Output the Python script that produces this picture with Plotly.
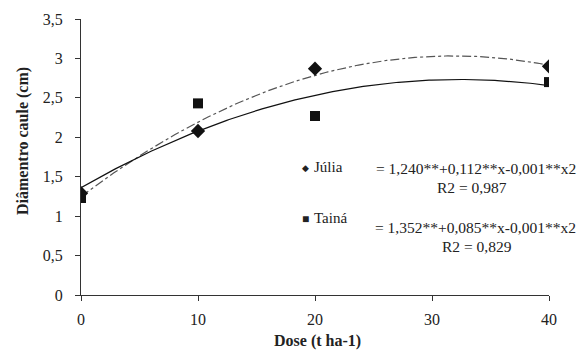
import numpy as np
import plotly.graph_objects as go

dose = [0, 10, 20, 40]
julia = [1.29, 2.08, 2.87, 2.90]
taina = [1.23, 2.43, 2.27, 2.70]
x_ticks = [0, 10, 20, 30, 40]
y_ticks = [0, 0.5, 1, 1.5, 2, 2.5, 3, 3.5]
y_tick_labels = ["0", "0,5", "1", "1,5", "2", "2,5", "3", "3,5"]

xs = np.linspace(0, 40, 200)
pj = np.polyfit(dose, julia, 2)
pt = np.polyfit(dose, taina, 2)

FONT = "Liberation Serif"
TXT = "#222222"
fig = go.Figure()
fig.add_trace(go.Scatter(x=xs, y=np.polyval(pj, xs), mode="lines",
                         line=dict(color="#555555", width=1.2, dash="dashdot"), hoverinfo="skip"))
fig.add_trace(go.Scatter(x=xs, y=np.polyval(pt, xs), mode="lines",
                         line=dict(color="#111111", width=1.2), hoverinfo="skip"))
fig.add_trace(go.Scatter(x=dose, y=julia, mode="markers",
                         marker=dict(symbol="diamond", size=11, color="#111111")))
fig.add_trace(go.Scatter(x=dose, y=taina, mode="markers",
                         marker=dict(symbol="square", size=10, color="#111111")))

fig.update_layout(
    width=569, height=345, showlegend=False,
    paper_bgcolor="white", plot_bgcolor="white",
    margin=dict(l=73, r=28, t=11, b=58),
    font=dict(family=FONT, size=16, color=TXT),
    xaxis=dict(range=[0, 40], tickvals=x_ticks, showgrid=False, zeroline=False,
               showline=True, linecolor="#333333", linewidth=1, automargin=False,
               ticks="outside", ticklen=5, tickcolor="#333333", ticklabelstandoff=5,
               tickfont=dict(family=FONT, size=16, color=TXT)),
    yaxis=dict(range=[0, 3.5], tickvals=y_ticks, ticktext=y_tick_labels, showgrid=False,
               zeroline=False, showline=True, linecolor="#333333", linewidth=1, automargin=False,
               ticks="outside", ticklen=5, tickcolor="#333333", ticklabelstandoff=9,
               tickfont=dict(family=FONT, size=16, color=TXT)),
)

def px_to_paper(px, py):
    return (px - 81) / 468, (295 - py) / 276

ann = [
    ("<b>Dose (t ha-1)</b>", 317, 341, "center", 16, 0),
    ("<b>Diâmentro caule (cm)</b>", 23, 141, "center", 16, -90),
    ("◆", 305, 168, "center", 9, 0),
    ("Júlia", 312, 167, "left", 15, 0),
    ("= 1,240**+0,112**x-0,001**x2", 578, 168, "right", 15.5, 0),
    ("R2 = 0,987", 472, 187, "center", 15.5, 0),
    ("■", 305, 219, "center", 12, 0),
    ("Tainá", 312, 218, "left", 15, 0),
    ("= 1,352**+0,085**x-0,001**x2", 578, 227, "right", 15.5, 0),
    ("R2 = 0,829", 477, 246, "center", 15.5, 0),
]
for t, px, py, al, fs, ang in ann:
    x, y = px_to_paper(px, py)
    fig.add_annotation(text=t, xref="paper", yref="paper", x=x, y=y,
                       xanchor=al, yanchor="middle", showarrow=False, textangle=ang,
                       font=dict(family=FONT, size=fs, color=TXT))

fig.write_html("out.html")
